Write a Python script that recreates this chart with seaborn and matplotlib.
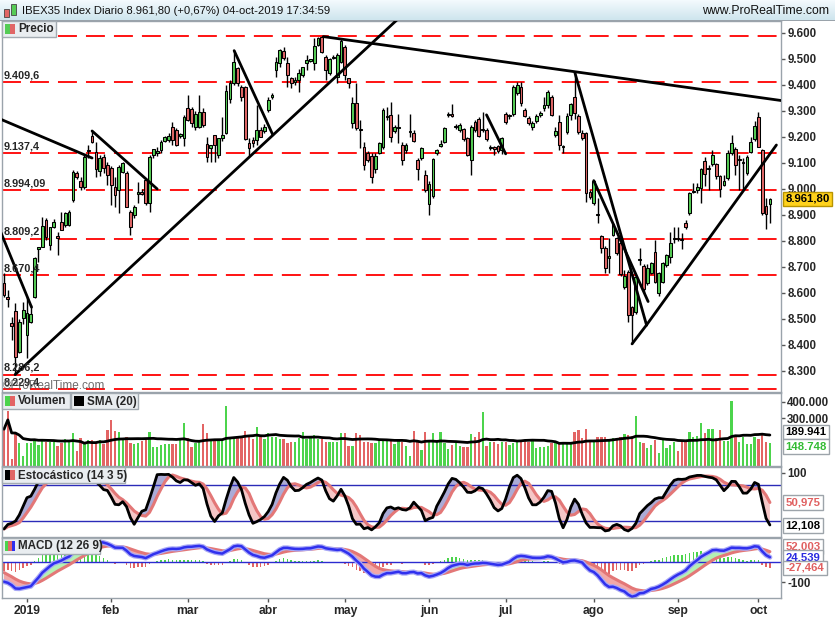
import numpy as np
import pandas as pd
import matplotlib
matplotlib.use("Agg")
import matplotlib.pyplot as plt
import matplotlib.transforms as mtrans
import matplotlib.patheffects as pe
from matplotlib.patches import Rectangle
from matplotlib.colors import LinearSegmentedColormap
import seaborn as sns

# daily candles, 20-dic-2018 .. 04-oct-2019
opens = [
    8640, 8585, 8483, 8532, 8374, 8503, 8438, 8490, 8586, 8770,
    8778, 8881, 8785, 8853, 8818, 8874, 8862, 8862, 8958, 9060,
    9032, 9009, 9145, 9204, 9143, 9070, 9124, 9092, 9079, 9009,
    8996, 9067, 9060, 8913, 8900, 8982, 8990, 9034, 8947, 9130,
    9140, 9150, 9185, 9190, 9240, 9227, 9205, 9195, 9310, 9306,
    9240, 9240, 9297, 9172, 9156, 9208, 9131, 9195, 9217, 9345,
    9406, 9464, 9393, 9393, 9175, 9188, 9188, 9227, 9224, 9304,
    9355, 9457, 9483, 9530, 9483, 9426, 9410, 9419, 9438, 9486,
    9494, 9483, 9554, 9586, 9506, 9447, 9505, 9432, 9490, 9545,
    9426, 9255, 9332, 9230, 9160, 9137, 9127, 9076, 9140, 9160,
    9276, 9285, 9224, 9233, 9169, 9150, 9218, 9217, 9112, 9118,
    9054, 8942, 8971, 9140, 9167, 9182, 9286, 9288, 9238, 9227,
    9229, 9195, 9112, 9259, 9268, 9227, 9227, 9158, 9160, 9165,
    9150, 9288, 9280, 9288, 9368, 9391, 9304, 9272, 9237, 9263,
    9284, 9310, 9323, 9355, 9208, 9259, 9160, 9220, 9285, 9352,
    9281, 9214, 9214, 8990, 8945, 8902, 8819, 8772, 8735, 8823,
    8810, 8791, 8622, 8682, 8545, 8528, 8725, 8704, 8640, 8678,
    8759, 8599, 8644, 8708, 8740, 8806, 8808, 8806, 8868, 8909,
    8988, 8996, 9003, 9108, 9078, 9096, 9095, 9048, 9015, 9041,
    9137, 9153, 9112, 9100, 9060, 9144, 9191, 9278, 9150, 8935,
    8942,
]
highs = [
    8676, 8612, 8509, 8560, 8500, 8567, 8586, 8554, 8740, 8778,
    8894, 8887, 8853, 8885, 8836, 8913, 8913, 8920, 9073, 9070,
    9045, 9131, 9168, 9223, 9182, 9130, 9135, 9105, 9090, 9047,
    9092, 9105, 9070, 8920, 8940, 9028, 9000, 9040, 9130, 9155,
    9160, 9190, 9205, 9215, 9258, 9235, 9215, 9285, 9361, 9315,
    9300, 9361, 9310, 9200, 9165, 9208, 9195, 9278, 9400, 9420,
    9535, 9470, 9400, 9395, 9195, 9200, 9323, 9240, 9250, 9355,
    9370, 9509, 9540, 9545, 9509, 9432, 9430, 9460, 9470, 9515,
    9500, 9579, 9586, 9590, 9515, 9505, 9515, 9522, 9575, 9554,
    9428, 9355, 9406, 9265, 9182, 9145, 9140, 9137, 9180, 9310,
    9316, 9336, 9245, 9288, 9182, 9175, 9290, 9225, 9118, 9160,
    9073, 9030, 9120, 9152, 9190, 9240, 9297, 9326, 9250, 9252,
    9235, 9200, 9245, 9265, 9275, 9297, 9235, 9170, 9165, 9170,
    9200, 9295, 9290, 9400, 9413, 9413, 9310, 9280, 9260, 9290,
    9300, 9355, 9380, 9362, 9237, 9285, 9170, 9291, 9330, 9447,
    9290, 9225, 9220, 8995, 9035, 8964, 8823, 8780, 8810, 8870,
    8815, 8795, 8689, 8689, 8550, 8670, 8772, 8710, 8710, 8720,
    8803, 8680, 8720, 8750, 8836, 8852, 8855, 8830, 8881, 8990,
    9022, 9022, 9080, 9124, 9092, 9150, 9100, 9055, 9054, 9150,
    9207, 9163, 9130, 9118, 9130, 9200, 9260, 9297, 9155, 8964,
    8964,
]
lows = [
    8586, 8547, 8419, 8286, 8368, 8480, 8349, 8483, 8580, 8720,
    8775, 8804, 8765, 8850, 8746, 8842, 8855, 8858, 8951, 9040,
    8995, 9000, 9118, 9175, 9047, 9050, 9060, 9015, 8938, 8932,
    8906, 9060, 8930, 8823, 8887, 8945, 8975, 8940, 8913, 9120,
    9125, 9140, 9180, 9180, 9170, 9165, 9195, 9165, 9260, 9240,
    9225, 9235, 9240, 9105, 9105, 9105, 9120, 9185, 9210, 9330,
    9400, 9395, 9340, 9190, 9125, 9160, 9170, 9200, 9215, 9295,
    9345, 9432, 9470, 9495, 9394, 9387, 9400, 9374, 9430, 9458,
    9488, 9458, 9550, 9522, 9419, 9440, 9500, 9406, 9485, 9419,
    9387, 9233, 9227, 9156, 9073, 9105, 9022, 9060, 9135, 9155,
    9265, 9182, 9215, 9178, 9092, 9140, 9200, 9180, 9035, 9110,
    8990, 8900, 8965, 9130, 9160, 9175, 9275, 9275, 9230, 9220,
    9185, 9125, 9054, 9220, 9200, 9220, 9185, 9150, 9130, 9140,
    9135, 9250, 9270, 9280, 9360, 9320, 9275, 9245, 9225, 9255,
    9275, 9300, 9310, 9280, 9200, 9150, 9140, 9210, 9265, 9270,
    9210, 9190, 8951, 8960, 8940, 8868, 8753, 8676, 8676, 8818,
    8745, 8665, 8615, 8490, 8404, 8520, 8708, 8600, 8630, 8672,
    8640, 8590, 8640, 8700, 8715, 8793, 8800, 8768, 8845, 8900,
    8985, 8985, 8945, 9010, 8996, 9090, 9040, 8970, 9010, 9035,
    9130, 9054, 8996, 8996, 9055, 9140, 9185, 9160, 8900, 8845,
    8868,
]
closes = [
    8592, 8575, 8471, 8355, 8490, 8535, 8522, 8519, 8733, 8775,
    8858, 8814, 8853, 8871, 8812, 8842, 8909, 8913, 9067, 9047,
    9006, 9124, 9150, 9182, 9075, 9118, 9080, 9054, 9015, 8977,
    9086, 9099, 8932, 8855, 8932, 8990, 8982, 8947, 9124, 9152,
    9147, 9182, 9198, 9204, 9188, 9169, 9210, 9275, 9265, 9252,
    9290, 9297, 9246, 9124, 9169, 9169, 9195, 9208, 9377, 9406,
    9490, 9406, 9355, 9191, 9156, 9176, 9227, 9201, 9240, 9342,
    9361, 9489, 9535, 9505, 9438, 9406, 9420, 9445, 9468, 9496,
    9494, 9550, 9579, 9528, 9458, 9499, 9509, 9515, 9570, 9438,
    9406, 9329, 9233, 9225, 9092, 9112, 9047, 9127, 9176, 9304,
    9280, 9201, 9240, 9236, 9112, 9169, 9222, 9186, 9076, 9156,
    8996, 9019, 9114, 9150, 9170, 9233, 9290, 9281, 9242, 9246,
    9191, 9131, 9240, 9227, 9204, 9231, 9191, 9162, 9153, 9147,
    9195, 9259, 9283, 9394, 9400, 9332, 9281, 9255, 9253, 9281,
    9293, 9323, 9374, 9285, 9223, 9169, 9162, 9281, 9327, 9291,
    9220, 9195, 8983, 8968, 9032, 8898, 8772, 8695, 8742, 8865,
    8753, 8673, 8665, 8515, 8515, 8663, 8730, 8614, 8695, 8714,
    8644, 8676, 8714, 8746, 8792, 8808, 8806, 8804, 8853, 8986,
    8990, 9006, 9076, 9058, 9082, 9131, 9048, 8999, 9031, 9137,
    9175, 9092, 9116, 9104, 9124, 9182, 9242, 9163, 8906, 8902,
    8962,
]
# volume in thousands
volumes = [
    234, 346, 55, 209, 149, 73, 149, 149, 173, 139,
    169, 159, 159, 159, 133, 149, 173, 159, 213, 103,
    179, 145, 169, 169, 149, 169, 143, 230, 290, 226,
    220, 173, 189, 153, 145, 149, 165, 169, 220, 129,
    129, 139, 145, 145, 145, 145, 179, 270, 179, 125,
    149, 159, 264, 209, 173, 173, 173, 173, 374, 173,
    179, 185, 179, 226, 189, 173, 250, 189, 173, 209,
    189, 189, 173, 173, 149, 159, 159, 179, 220, 173,
    189, 199, 173, 173, 159, 159, 159, 159, 213, 209,
    133, 133, 209, 199, 159, 159, 149, 153, 169, 165,
    169, 165, 145, 169, 159, 133, 73, 226, 159, 109,
    220, 159, 209, 159, 220, 149, 113, 139, 153, 133,
    129, 129, 205, 189, 220, 340, 133, 159, 159, 145,
    159, 159, 139, 149, 159, 169, 165, 159, 165, 119,
    125, 129, 133, 153, 153, 145, 153, 153, 153, 220,
    230, 179, 234, 169, 159, 189, 189, 185, 173, 179,
    173, 189, 205, 199, 193, 314, 159, 149, 119, 139,
    169, 93, 169, 119, 139, 159, 105, 159, 159, 220,
    189, 193, 270, 213, 234, 234, 179, 230, 165, 165,
    404, 189, 159, 189, 145, 145, 189, 173, 199, 159,
    149,
]

month_labels = ["2019", "feb", "mar", "abr", "may", "jun", "jul", "ago", "sep", "oct"]
month_days = [6, 22, 20, 21, 20, 22, 20, 23, 22, 21, 4]  # trading days, dic-2018 first

levels = [9588, 9409.6, 9137.4, 8994.09, 8809.2, 8670.4, 8286.2, 8229.4]
level_labels = ["", "9.409,6", "9.137,4", "8.994,09", "8.809,2", "8.670,4", "8.286,2", "8.229,4"]

# drawn trend lines: (day0, price0, day1, price1)
trend_lines = [
    (-1.0, 9269, 23.0, 9119),
    (23.0, 9223, 40.0, 9000),
    (-0.8, 8832, 7.2, 8545),
    (2.9, 8286, 102.6, 9650),
    (60.1, 9532, 70.2, 9208),
    (83.4, 9586, 203.0, 9340),
    (126.0, 9285, 131.0, 9135),
    (149.1, 9446, 167.8, 8476),
    (154.0, 9032, 168.2, 8567),
    (164.0, 8404, 167.8, 8477),
    (167.8, 8477, 201.7, 9169),
]

# last values shown on the right scale (text, where the box sits)
last_price = ("8.961,80", 8961.80)
vol_boxes = [("189.941", 217, "black"), ("148.748", 129, "#33BB33")]
stoch_boxes = [("50,975", 50.975, "#E06060"), ("12,108", 12.108, "black")]
macd_boxes = [("52,003", 80, "#E06060"), ("24,539", 24.539, "#2A2AE0"),
              ("-27,464", -27.464, "#E06060")]

# MACD state at the first visible day
ema12_seed = 8760
ema26_seed = 8850
signal_seed = -40

W, H = 835, 620
GREEN = "#55CC55"
RED = "#E06666"
VGREEN = "#4CD44C"
VRED = "#E36464"


def ema(values, span, seed):
    alpha = 2.0 / (span + 1)
    out = []
    prev = seed
    for v in values:
        prev = prev + alpha * (v - prev)
        out.append(prev)
    return np.array(out)


def px_box(fig, x0, y0, x1, y1, fc, ec="none", lw=0.0, z=5):
    fig.add_artist(Rectangle((x0 / W, 1 - y1 / H), (x1 - x0) / W, (y1 - y0) / H,
                             transform=fig.transFigure, facecolor=fc, edgecolor=ec,
                             linewidth=lw, zorder=z))


def legend_tag(fig, x0, y0, x1, text, icon_colors):
    px_box(fig, x0, y0, x1, y0 + 16, "#E9EDF0", "#A3ABB2", 1.0)
    w = 10 / len(icon_colors)
    for k, c in enumerate(icon_colors):
        px_box(fig, x0 + 3 + k * w, y0 + 3, x0 + 3 + (k + 1) * w, y0 + 13, c, z=6)
    fig.text((x0 + 16) / W, 1 - (y0 + 8.5) / H, text, fontsize=8.4, fontweight="bold",
             va="center", ha="left", zorder=7)


def value_box(ax, y, text, color="black", fc="white", ec="#9DA4AA"):
    tr = mtrans.blended_transform_factory(ax.transAxes, ax.transData)
    ax.text(1.006, y, text, transform=tr, ha="left", va="center", fontsize=8.2,
            fontweight="bold", color=color, clip_on=False, zorder=10,
            bbox=dict(boxstyle="square,pad=0.2", fc=fc, ec=ec, lw=1))


def main():
    sns.set_style("white")
    plt.rcParams["font.family"] = ["Liberation Sans", "DejaVu Sans"]

    df = pd.DataFrame({"open": opens, "high": highs, "low": lows,
                       "close": closes, "volume": volumes})
    n = len(df)
    x = np.arange(n)
    up = (df["close"] >= df["open"]).to_numpy()

    # indicators
    vol_sma = df["volume"].rolling(20, min_periods=1).mean().to_numpy()
    ll = df["low"].rolling(14, min_periods=1).min()
    hh = df["high"].rolling(14, min_periods=1).max()
    raw_k = 100 * (df["close"] - ll) / (hh - ll)
    k = raw_k.rolling(3, min_periods=1).mean().to_numpy()
    d = pd.Series(k).rolling(5, min_periods=1).mean().to_numpy()
    macd = ema(closes, 12, ema12_seed) - ema(closes, 26, ema26_seed)
    signal = ema(macd, 9, signal_seed)
    hist = macd - signal

    fig = plt.figure(figsize=(W / 100, H / 100), dpi=100)
    fig.patch.set_facecolor("white")

    def add_panel(top, bottom, ylim):
        ax = fig.add_axes([2 / W, 1 - bottom / H, 779 / W, (bottom - top) / H])
        ax.set_facecolor("white")
        for s in ax.spines.values():
            s.set_color("#9AA3AB")
            s.set_linewidth(1)
        ax.set_xlim(-0.52, 202.9)
        ax.set_ylim(*ylim)
        ax.yaxis.tick_right()
        ax.tick_params(axis="y", direction="out", length=3, width=1, color="#555555",
                       labelsize=8.3, pad=1.5)
        ax.tick_params(axis="x", bottom=False, labelbottom=False)
        return ax

    ax_p = add_panel(21, 392, (8219, 9646))
    ax_v = add_panel(393, 466, (12.7, 452))
    ax_s = add_panel(467, 537, (-6.7, 110))
    ax_m = add_panel(538, 598, (-178, 121))

    # ---- price panel
    for lv, lab in zip(levels, level_labels):
        ax_p.axhline(lv, color="#FF0000", linewidth=1.3, dashes=(10.5, 5.0), zorder=1)
        if lab:
            tr = mtrans.blended_transform_factory(ax_p.transAxes, ax_p.transData)
            ax_p.text(0.002, lv + 6, lab, transform=tr, fontsize=7.8, fontweight="bold",
                      va="bottom", ha="left", zorder=6)

    ax_p.vlines(x, df["low"], df["high"], color="black", linewidth=1.0, zorder=2)
    body = (df["close"] - df["open"]).abs().clip(lower=4)
    ax_p.bar(x, body, bottom=np.minimum(df["open"], df["close"]), width=0.72,
             color=np.where(up, GREEN, RED), edgecolor="black", linewidth=0.75, zorder=3)

    for x0, p0, x1, p1 in trend_lines:
        ax_p.plot([x0, x1], [p0, p1], color="black", linewidth=2.0,
                  solid_capstyle="round", zorder=4)

    ax_p.set_yticks(range(8300, 9700, 100),
                    [f"{v // 1000}.{v % 1000:03d}" for v in range(8300, 9700, 100)],
                    fontweight="bold")
    value_box(ax_p, last_price[1], last_price[0], fc="#FFD21C", ec="#B89400")

    # ---- volume panel
    ax_v.bar(x, df["volume"], width=0.6, color=np.where(up, VGREEN, VRED), linewidth=0)
    sns.lineplot(x=x, y=vol_sma, ax=ax_v, color="black", linewidth=2)
    ax_v.set_yticks([300, 400], ["300.000", "400.000"], fontweight="bold")
    for txt, yv, col in vol_boxes:
        value_box(ax_v, yv, txt, color=col)

    # ---- stochastic panel
    ax_s.fill_between(x, k, d, where=k >= d, interpolate=True, color="#ABABD6", linewidth=0)
    ax_s.fill_between(x, k, d, where=k < d, interpolate=True, color="#F5C6C6", linewidth=0)
    ax_s.axhline(80, color="#2B2BB8", linewidth=1)
    ax_s.axhline(20, color="#2B2BB8", linewidth=1)
    sns.lineplot(x=x, y=d, ax=ax_s, color="#E37777", linewidth=2.2)
    sns.lineplot(x=x, y=k, ax=ax_s, color="black", linewidth=2)
    ax_s.set_yticks([100], ["100"], fontweight="bold")
    for txt, yv, col in stoch_boxes:
        value_box(ax_s, yv, txt, color=col)

    # ---- MACD panel
    ax_m.bar(x, hist, width=0.4, color=np.where(hist >= 0, VGREEN, VRED), linewidth=0)
    ax_m.fill_between(x, macd, signal, where=macd >= signal, interpolate=True,
                      color="#B4F0B4", linewidth=0)
    ax_m.fill_between(x, macd, signal, where=macd < signal, interpolate=True,
                      color="#F2A8A8", linewidth=0)
    ax_m.axhline(0, color="#2B2BD0", linewidth=1)
    sns.lineplot(x=x, y=signal, ax=ax_m, color="#E37777", linewidth=2.2)
    line = sns.lineplot(x=x, y=macd, ax=ax_m, color="#3030EE", linewidth=1.8).lines[-1]
    line.set_path_effects([pe.Stroke(linewidth=3.6, foreground="#A8A8F6"), pe.Normal()])
    ax_m.set_yticks([-100], ["-100"], fontweight="bold")
    for txt, yv, col in macd_boxes:
        value_box(ax_m, yv, txt, color=col)

    month_pos = np.cumsum(month_days)[:-1]
    ax_m.set_xticks(month_pos, month_labels, fontweight="bold", fontsize=8.7)
    ax_m.tick_params(axis="x", bottom=True, labelbottom=True, direction="out",
                     length=3, width=1, color="#555555", pad=2)

    for ax in (ax_p, ax_v, ax_s, ax_m):
        ax.set_xlabel("")
        ax.set_ylabel("")

    # ---- header
    ax_h = fig.add_axes([0, 1 - 20 / H, 1, 20 / H])
    grad = np.linspace(0, 1, 20).reshape(-1, 1)
    ax_h.imshow(grad, aspect="auto", extent=(0, W, 20, 0),
                cmap=LinearSegmentedColormap.from_list("hdr", ["#F3FAFD", "#CFE5EE"]))
    ax_h.set_xlim(0, W)
    ax_h.set_ylim(20, 0)
    ax_h.axis("off")
    ax_h.text(22, 10.5, "IBEX35 Index Diario 8.961,80 (+0,67%) 04-oct-2019 17:34:59",
              fontsize=8.1, va="center", ha="left", color="#111111")
    ax_h.text(829, 10.5, "www.ProRealTime.com", fontsize=8.8, va="center", ha="right",
              color="#111111")
    px_box(fig, 0, 19.5, W, 20.5, "#9AA3AB", z=8)
    px_box(fig, 4, 9, 9, 17, RED, "#444444", 0.6, z=9)
    px_box(fig, 11, 4, 16, 15, GREEN, "#444444", 0.6, z=9)

    # ---- panel tags
    legend_tag(fig, 2, 21, 56, "Precio", [GREEN, RED])
    legend_tag(fig, 2, 393, 70, "Volumen", [VGREEN, VRED])
    legend_tag(fig, 71, 393, 138, "SMA (20)", ["black"])
    legend_tag(fig, 2, 467, 125, "Estocástico (14 3 5)", ["black", RED])
    legend_tag(fig, 2, 538, 100, "MACD (12 26 9)", [VGREEN, RED, "#3030EE"])

    fig.text(3 / W, 1 - 386 / H, "©ProRealTime.com", fontsize=8.5, color="#555555",
             alpha=0.85, va="center", ha="left", zorder=6)

    fig.savefig("out.png", dpi=100)


if __name__ == "__main__":
    main()
